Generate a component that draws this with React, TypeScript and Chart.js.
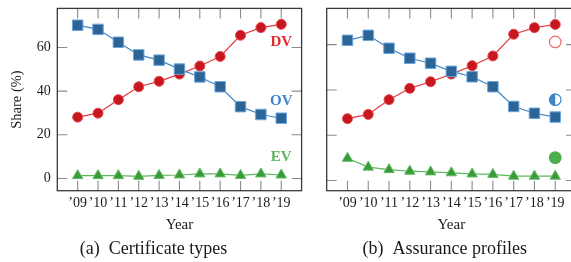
import React, { useEffect, useRef } from "react";
import { Chart, registerables } from "chart.js";

Chart.register(...registerables);

// ---------- data ----------
const years = [2009, 2010, 2011, 2012, 2013, 2014, 2015, 2016, 2017, 2018, 2019];
const yearLabels = ["’09", "’10", "’11", "’12", "’13", "’14", "’15", "’16", "’17", "’18", "’19"];
const yTickValues = [0, 20, 40, 60];

// (a) Certificate types
const dvA = [28.1, 29.9, 36.1, 42.0, 44.5, 47.8, 51.5, 55.9, 65.6, 69.1, 70.6];
const ovA = [70.2, 68.3, 62.4, 56.6, 54.2, 50.1, 46.5, 42.0, 32.9, 29.3, 27.6];
const evA = [1.3, 1.3, 1.3, 1.0, 1.4, 1.6, 2.1, 2.1, 1.4, 2.1, 1.6];

// (b) Assurance profiles
const dvB = [27.3, 29.2, 35.7, 40.7, 43.6, 47.0, 50.7, 55.0, 64.6, 67.5, 68.9];
const ovB = [61.9, 64.1, 58.4, 54.0, 51.8, 48.2, 45.8, 41.4, 32.7, 29.7, 28.0];
const evB = [9.8, 5.9, 4.8, 4.1, 3.8, 3.4, 2.9, 2.7, 1.9, 1.9, 1.9];

// series tags
const tagNames = ["DV", "OV", "EV"];
const tagYear = 2019;
const tagYA = [62.5, 35.2, 9.6];
const tagYB = [61.2, 35.7, 10.1];

const captionA = ["(a)", "Certificate types"];
const captionB = ["(b)", "Assurance profiles"];

// ---------- style ----------
const SERIF = "'Liberation Serif', 'DejaVu Serif', serif";
const RED_LINE = "#e23a3f";
const RED_FILL = "#c8161e";
const RED_RIM = "#e24a4f";
const BLUE_LINE = "#3f86c4";
const BLUE_FILL = "#2c6496";
const BLUE_RIM = "#6aa6dc";
const GREEN_LINE = "#5cb85c";
const GREEN_FILL = "#3a9a3a";
const GREEN_RIM = "#62bb62";
const TAG_COLORS = ["#e02a2e", "#3d85c6", "#5cb85c"];

function series(vals: number[]) {
  return years.map((x, i) => ({ x, y: vals[i] }));
}

function makeDatasets(dv: number[], ov: number[], ev: number[]) {
  return [
    {
      label: "OV",
      data: series(ov),
      borderColor: BLUE_LINE,
      borderWidth: 1.2,
      pointStyle: "rect",
      pointRadius: 7.4,
      pointBackgroundColor: BLUE_FILL,
      pointBorderColor: BLUE_RIM,
      pointBorderWidth: 1,
      tension: 0,
    },
    {
      label: "DV",
      data: series(dv),
      borderColor: RED_LINE,
      borderWidth: 1.2,
      pointStyle: "circle",
      pointRadius: 5,
      pointBackgroundColor: RED_FILL,
      pointBorderColor: RED_RIM,
      pointBorderWidth: 1,
      tension: 0,
    },
    {
      label: "EV",
      data: series(ev),
      borderColor: GREEN_LINE,
      borderWidth: 1.2,
      pointStyle: "triangle",
      pointRadius: 6,
      pointBackgroundColor: GREEN_FILL,
      pointBorderColor: GREEN_RIM,
      pointBorderWidth: 1,
      tension: 0,
    },
  ];
}

const framePlugin = {
  id: "frame",
  beforeDatasetsDraw(chart: any) {
    const { ctx, chartArea, scales } = chart;
    const { left, right, top, bottom } = chartArea;
    const TL = 10;
    ctx.save();
    ctx.strokeStyle = "#8c8c8c";
    ctx.lineWidth = 1.1;
    ctx.beginPath();
    for (const yr of years) {
      const px = scales.x.getPixelForValue(yr);
      ctx.moveTo(px, bottom);
      ctx.lineTo(px, bottom - TL);
      ctx.moveTo(px, top);
      ctx.lineTo(px, top + TL);
    }
    for (const v of yTickValues) {
      const py = scales.y.getPixelForValue(v);
      ctx.moveTo(left, py);
      ctx.lineTo(left + TL, py);
      ctx.moveTo(right, py);
      ctx.lineTo(right - TL, py);
    }
    ctx.stroke();
    ctx.strokeStyle = "#3a3a3a";
    ctx.lineWidth = 1.3;
    ctx.strokeRect(left, top, right - left, bottom - top);
    ctx.restore();
  },
};

function tagTextPlugin(ys: number[]) {
  return {
    id: "tagText",
    afterDatasetsDraw(chart: any) {
      const { ctx, scales } = chart;
      ctx.save();
      ctx.font = `bold 15px ${SERIF}`;
      ctx.textAlign = "center";
      ctx.textBaseline = "middle";
      tagNames.forEach((name, i) => {
        ctx.fillStyle = TAG_COLORS[i];
        ctx.fillText(name, scales.x.getPixelForValue(tagYear), scales.y.getPixelForValue(ys[i]));
      });
      ctx.restore();
    },
  };
}

function tagGlyphPlugin(ys: number[]) {
  return {
    id: "tagGlyph",
    afterDatasetsDraw(chart: any) {
      const { ctx, scales } = chart;
      const x = scales.x.getPixelForValue(tagYear);
      ctx.save();
      // DV: open circle
      let y = scales.y.getPixelForValue(ys[0]);
      ctx.beginPath();
      ctx.arc(x, y, 5.8, 0, Math.PI * 2);
      ctx.fillStyle = "#ffffff";
      ctx.fill();
      ctx.strokeStyle = "#ef6a6e";
      ctx.lineWidth = 1.2;
      ctx.stroke();
      // OV: half-filled circle
      y = scales.y.getPixelForValue(ys[1]);
      ctx.beginPath();
      ctx.arc(x, y, 5.8, 0, Math.PI * 2);
      ctx.fillStyle = "#ffffff";
      ctx.fill();
      ctx.beginPath();
      ctx.arc(x, y, 5.8, Math.PI / 2, (Math.PI * 3) / 2);
      ctx.closePath();
      ctx.fillStyle = "#3d85c6";
      ctx.fill();
      ctx.beginPath();
      ctx.arc(x, y, 5.8, 0, Math.PI * 2);
      ctx.strokeStyle = "#3d85c6";
      ctx.lineWidth = 1.2;
      ctx.stroke();
      // EV: filled circle
      y = scales.y.getPixelForValue(ys[2]);
      ctx.beginPath();
      ctx.arc(x, y, 6.4, 0, Math.PI * 2);
      ctx.fillStyle = "#4cae4c";
      ctx.fill();
      ctx.restore();
    },
  };
}

interface PanelProps {
  width: number;
  height: number;
  dv: number[];
  ov: number[];
  ev: number[];
  yMin: number;
  yMax: number;
  yAxisWidth: number;
  padRight: number;
  showYLabels: boolean;
  extra: any;
}

function Panel(p: PanelProps) {
  const ref = useRef<HTMLCanvasElement | null>(null);
  useEffect(() => {
    if (!ref.current) return;
    const tickFont = { family: SERIF, size: 14 };
    const chart = new Chart(ref.current, {
      type: "line",
      data: { datasets: makeDatasets(p.dv, p.ov, p.ev) as any },
      options: {
        responsive: false,
        animation: false,
        devicePixelRatio: 1,
        layout: { padding: { left: 0, top: 7.3, right: p.padRight, bottom: 0 } },
        plugins: { legend: { display: false }, tooltip: { enabled: false } },
        scales: {
          x: {
            type: "linear",
            min: 2008,
            max: 2020,
            afterBuildTicks: (s: any) => {
              s.ticks = years.map((v) => ({ value: v }));
            },
            ticks: {
              autoSkip: false,
              maxRotation: 0,
              minRotation: 0,
              padding: 4,
              color: "#1a1a1a",
              font: tickFont,
              callback: (_v: any, i: number) => yearLabels[i],
            },
            grid: { display: false, drawTicks: false },
            border: { display: false },
            title: {
              display: true,
              text: "Year",
              color: "#1a1a1a",
              font: { family: SERIF, size: 15 },
              padding: { top: 0, bottom: 28 },
            },
            afterFit: (s: any) => {
              s.height = 262 - 190.7;
              s.paddingLeft = 0;
              s.paddingRight = 0;
            },
          },
          y: {
            type: "linear",
            min: p.yMin,
            max: p.yMax,
            afterBuildTicks: (s: any) => {
              s.ticks = yTickValues.map((v) => ({ value: v }));
            },
            ticks: {
              display: p.showYLabels,
              padding: 6.5,
              color: "#1a1a1a",
              font: tickFont,
            },
            grid: { display: false, drawTicks: false },
            border: { display: false },
            title: {
              display: p.showYLabels,
              text: "Share (%)",
              color: "#1a1a1a",
              font: { family: SERIF, size: 14.5 },
              padding: { top: 8.3, bottom: 0 },
            },
            afterFit: (s: any) => {
              s.width = p.yAxisWidth;
              s.paddingTop = 0;
              s.paddingBottom = 0;
            },
          },
        },
      },
      plugins: [framePlugin, p.extra],
    });
    return () => chart.destroy();
  }, []);
  return <canvas ref={ref} width={p.width} height={p.height} style={{ display: "block" }} />;
}

function Caption({ parts, center }: { parts: string[]; center: number }) {
  return (
    <div
      style={{
        position: "absolute",
        left: center - 150,
        width: 300,
        top: 238,
        height: 20,
        lineHeight: "20px",
        textAlign: "center",
        fontFamily: SERIF,
        fontSize: 18,
        color: "#1a1a1a",
        whiteSpace: "nowrap",
      }}
    >
      {parts[0]}
      <span style={{ display: "inline-block", width: 9 }} />
      {parts[1]}
    </div>
  );
}

export default function App() {
  return (
    <div
      style={{
        position: "fixed",
        left: 0,
        top: 0,
        width: 571,
        height: 262,
        overflow: "hidden",
        background: "#ffffff",
      }}
    >
      <div style={{ position: "absolute", left: 0, top: 0 }}>
        <Panel
          width={310}
          height={262}
          dv={dvA}
          ov={ovA}
          ev={evA}
          yMin={-5.6}
          yMax={77.9}
          yAxisWidth={57.3}
          padRight={3.2}
          showYLabels={true}
          extra={tagTextPlugin(tagYA)}
        />
      </div>
      <div style={{ position: "absolute", left: 316, top: 0 }}>
        <Panel
          width={270}
          height={262}
          dv={dvB}
          ov={ovB}
          ev={evB}
          yMin={-4.5}
          yMax={76}
          yAxisWidth={10.7}
          padRight={10}
          showYLabels={false}
          extra={tagGlyphPlugin(tagYB)}
        />
      </div>
      <Caption parts={captionA} center={153.5} />
      <Caption parts={captionB} center={444.7} />
    </div>
  );
}
